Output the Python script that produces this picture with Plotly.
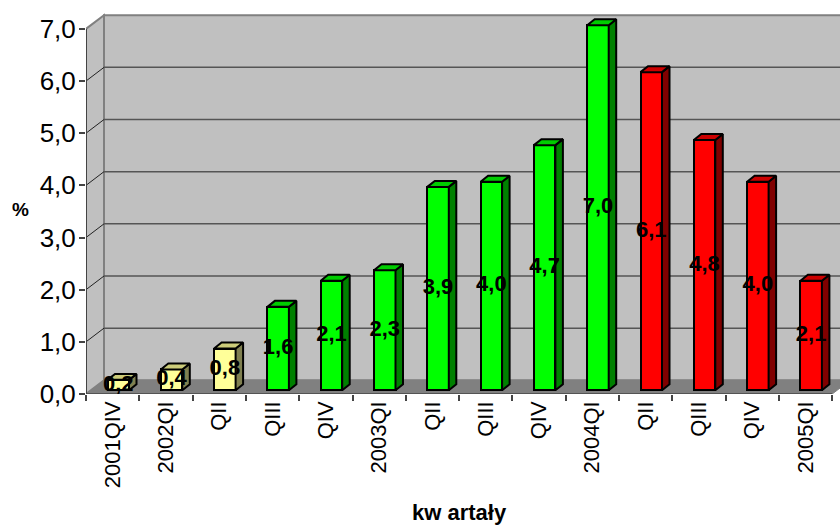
import plotly.graph_objects as go

categories = ["2001QIV", "2002QI", "QII", "QIII", "QIV", "2003QI", "QII", "QIII", "QIV",
              "2004QI", "QII", "QIII", "QIV", "2005QI"]
values = [0.2, 0.4, 0.8, 1.6, 2.1, 2.3, 3.9, 4.0, 4.7, 7.0, 6.1, 4.8, 4.0, 2.1]
groups = ["y", "y", "y", "g", "g", "g", "g", "g", "g", "g", "r", "r", "r", "r"]
front_colors = {"y": "#FFFF99", "g": "#00FF00", "r": "#FF0000"}
side_colors = {"y": "#808050", "g": "#008000", "r": "#800000"}
top_colors = {"y": "#CCCC7A", "g": "#00CC00", "r": "#CC0000"}

W, H = 840, 525
X0, Y0 = 86, 394.3          # pixel position of the front axis origin
PX, PY = 53.3, 52.2         # pixels per category / per unit
xr = [-0.5, -0.5 + (W - X0) / PX]
yr = [0, Y0 / PY]
wx, wy = 18 / PX, 13.7 / PY  # wall depth
fx, fy = 5.6 / PX, 3.7 / PY  # gap in front of bars
dx, dy = 7.5 / PX, 6 / PY    # bar depth
bw = 21.5 / PX               # bar width
xs = [i + fx for i in range(len(values))]
L = -0.5
R = 13.5
TOP = 7

fig = go.Figure()


def poly(fill, xx, yy, line_color, lw):
    return dict(type="path", layer="below", xref="x", yref="y", fillcolor=fill,
                line=dict(color=line_color, width=lw),
                path="M" + " L".join(f"{a},{b}" for a, b in zip(xx, yy)) + " Z")


shapes = [
    poly("#C0C0C0", [L + wx, R + wx, R + wx, L + wx], [wy, wy, TOP + wy, TOP + wy], "#808080", 2),
    poly("#C0C0C0", [L, L + wx, L + wx, L], [0, wy, TOP + wy, TOP], "#808080", 2),
    poly("#808080", [L, R, R + wx, L + wx], [0, 0, wy, wy], "#808080", 1),
]
for k in range(1, 7):
    shapes.append(dict(type="line", layer="below", xref="x", yref="y", x0=L + wx, x1=R + wx, y0=k + wy, y1=k + wy,
                       line=dict(color="#555555", width=1.5)))
    shapes.append(dict(type="line", layer="below", xref="x", yref="y", x0=L, x1=L + wx, y0=k, y1=k + wy,
                       line=dict(color="#222222", width=1)))
shapes.append(dict(type="line", layer="below", xref="x", yref="y", x0=L, x1=L, y0=0, y1=TOP,
                   line=dict(color="#444444", width=2)))
shapes.append(dict(type="line", layer="below", xref="x", yref="y", x0=L, x1=R, y0=0, y1=0,
                   line=dict(color="#444444", width=1.5)))

fig.add_trace(go.Bar(x=xs, y=values, base=fy, width=bw,
                     marker=dict(color=[front_colors[g] for g in groups],
                                 line=dict(color="black", width=2)),
                     hoverinfo="skip", showlegend=False))

for g in front_colors:
    sx, sy, tx, ty = [], [], [], []
    for x, v, gg in zip(xs, values, groups):
        if gg != g:
            continue
        r = x + bw / 2
        l = x - bw / 2
        b = fy
        t = fy + v
        sx += [r, r + dx, r + dx, r, r, None]
        sy += [b, b + dy, t + dy, t, b, None]
        tx += [l, r, r + dx, l + dx, l, None]
        ty += [t, t, t + dy, t + dy, t, None]
    for px, py, c in ((sx, sy, side_colors[g]), (tx, ty, top_colors[g])):
        fig.add_trace(go.Scatter(x=px, y=py, mode="lines", fill="toself", fillcolor=c,
                                 line=dict(color="black", width=2),
                                 hoverinfo="skip", showlegend=False))

fig.add_trace(go.Scatter(x=xs, y=[fy + v / 2 for v in values], mode="text",
                         text=[f"{v:.1f}".replace(".", ",") for v in values],
                         textposition="middle center",
                         textfont=dict(family="Liberation Sans", size=22, color="black", weight="bold"),
                         hoverinfo="skip", showlegend=False))

fig.update_layout(
    width=W, height=H, autosize=False,
    margin=dict(l=X0, r=0, t=0, b=H - Y0),
    paper_bgcolor="white", plot_bgcolor="white",
    separators=",.",
    bargap=0,
    shapes=shapes,
    font=dict(family="Liberation Sans", color="black"),
    xaxis=dict(range=xr, tickmode="array", tickvals=list(range(len(categories))), ticktext=categories,
               tickangle=-90, ticks="", showgrid=False, zeroline=False, showline=False,
               tickfont=dict(size=22, family="Liberation Sans"), ticklabelstandoff=2,
               minor=dict(ticks="outside", ticklen=6, tickwidth=1.5, tickcolor="#444444",
                          tick0=-0.5, dtick=1, showgrid=False)),
    yaxis=dict(range=yr, tickmode="array", tickvals=list(range(8)), tickformat=".1f",
               ticks="outside", ticklen=6, tickwidth=1.5, tickcolor="#444444",
               showgrid=False, zeroline=False, showline=False, ticklabelstandoff=-2,
               tickfont=dict(size=26, family="Liberation Sans")),
    annotations=[
        dict(text="<b>%</b>", xref="paper", yref="paper", x=(20 - X0) / (W - X0), y=(Y0 - 210) / Y0,
             xanchor="center", yanchor="middle", showarrow=False, font=dict(size=19)),
        dict(text="<b>kw artały</b>", xref="paper", yref="paper", x=(459 - X0) / (W - X0),
             y=(Y0 - 513) / Y0, xanchor="center", yanchor="middle", showarrow=False, font=dict(size=22)),
    ],
)
fig.write_html("out.html", config={"displayModeBar": False},
               post_script="document.body.style.margin='0';")
